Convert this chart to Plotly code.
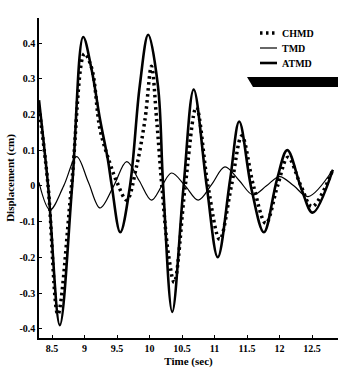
import plotly.graph_objects as go

# ---- data ----
atmd_t = [8.30, 8.44, 8.62, 8.81, 8.98, 9.11, 9.24, 9.36, 9.42, 9.55, 9.70, 9.85, 9.98,
          10.13, 10.21, 10.35, 10.52, 10.68, 10.88, 11.05, 11.24, 11.38, 11.57, 11.76,
          11.96, 12.12, 12.34, 12.51, 12.82]
atmd_y = [0.24, 0.0, -0.39, 0.0, 0.417, 0.325, 0.185, 0.073, 0.0, -0.13, 0.0, 0.28, 0.423,
          0.28, 0.0, -0.353, -0.01, 0.27, 0.0, -0.20, 0.017, 0.18, -0.01, -0.13,
          0.017, 0.10, -0.01, -0.075, 0.045]

chmd_t = [8.30, 8.44, 8.59, 8.80, 9.00, 9.11, 9.24, 9.39, 9.50, 9.65, 9.80, 9.93, 10.03,
          10.11, 10.19, 10.29, 10.38, 10.55, 10.72, 10.90, 11.08, 11.26, 11.42, 11.60,
          11.79, 11.97, 12.13, 12.33, 12.50, 12.82]
chmd_y = [0.22, 0.0, -0.36, 0.0, 0.37, 0.33, 0.157, 0.064, 0.01, -0.04, 0.054, 0.185, 0.335,
          0.185, 0.0, -0.19, -0.27, 0.0, 0.22, 0.0, -0.15, 0.0, 0.14, 0.0,
          -0.105, 0.0, 0.08, 0.0, -0.058, 0.045]

tmd_t = [8.30, 8.47, 8.68, 8.88, 9.06, 9.24, 9.45, 9.65, 9.84, 10.03, 10.19, 10.34, 10.55,
         10.75, 10.96, 11.16, 11.38, 11.59, 11.80, 12.00, 12.22, 12.44, 12.82]
tmd_y = [0.01, -0.067, 0.0, 0.082, 0.01, -0.062, 0.0, 0.068, 0.015, -0.04, 0.0, 0.036, 0.0,
         -0.04, 0.005, 0.053, 0.015, -0.025, 0.0, 0.026, 0.0, -0.03, 0.045]

series_names = ["CHMD", "TMD", "ATMD"]

x_ticks = [8.5, 9, 9.5, 10, 10.5, 11, 11.5, 12, 12.5]
x_ticktext = ["8.5", "9", "9.5", "10", "10.5", "11", "11.5", "12", "12.5"]
y_ticks = [-0.4, -0.3, -0.2, -0.1, 0, 0.1, 0.2, 0.3, 0.4]
y_ticktext = ["-0.4", "-0.3", "-0.2", "-0.1", "0", "0.1", "0.2", "0.3", "0.4"]

FONT = "Liberation Serif"
styles = [dict(color="black", width=3.5, dash="2.5px,3.5px"),
          dict(color="black", width=1.2),
          dict(color="black", width=2.6)]

fig = go.Figure()
for name, t, y, st in zip(series_names, [chmd_t, tmd_t, atmd_t], [chmd_y, tmd_y, atmd_y], styles):
    fig.add_trace(go.Scatter(x=t, y=y, name=name, mode="lines",
                             line=dict(shape="spline", **st), showlegend=False))

L, R, T, B = 39, 0, 18, 41
W, H = 338, 379
pw, ph = W - L - R, H - T - B

def px(x):
    return (x - L) / pw

def py(y):
    return (H - B - y) / ph

# custom compact legend
for i, (name, st) in enumerate(zip(series_names, styles)):
    yy = [33, 48, 63][i]
    fig.add_shape(type="line", xref="paper", yref="paper",
                  x0=px(260), x1=px(277), y0=py(yy), y1=py(yy), line=st)
    fig.add_annotation(xref="paper", yref="paper", x=px(280), y=py(yy), text=name,
                       showarrow=False, xanchor="left", yanchor="middle",
                       font=dict(family=FONT, size=10, weight="bold"))

# black bar under legend (scan artifact)
fig.add_shape(type="path", xref="paper", yref="paper",
              path=f"M {px(247)} {py(77)} L {px(340)} {py(77)} L {px(340)} {py(87)} L {px(253)} {py(87)} Z",
              fillcolor="black", line=dict(width=0))

fig.update_layout(
    width=W, height=H,
    margin=dict(l=L, r=R, t=T, b=B),
    plot_bgcolor="white", paper_bgcolor="white",
    font=dict(family=FONT, color="black", size=10),
    showlegend=False,
    xaxis=dict(range=[8.3, 12.9], tickvals=x_ticks, ticktext=x_ticktext,
               showgrid=False, zeroline=False, showline=True, linecolor="black", linewidth=1.5,
               ticks="inside", ticklen=3, tickcolor="black",
               tickfont=dict(family=FONT, size=10, weight="bold"),
               title=dict(text="Time (sec)", font=dict(family=FONT, size=11, weight="bold"), standoff=5)),
    yaxis=dict(range=[-0.426, 0.47], tickvals=y_ticks, ticktext=y_ticktext,
               showgrid=False, zeroline=False, showline=True, linecolor="black", linewidth=1.5,
               ticks="inside", ticklen=3, tickcolor="black",
               tickfont=dict(family=FONT, size=10, weight="bold"),
               title=dict(text="Displacement (cm)", font=dict(family=FONT, size=11, weight="bold"), standoff=3)),
)

fig.write_html("out.html")
